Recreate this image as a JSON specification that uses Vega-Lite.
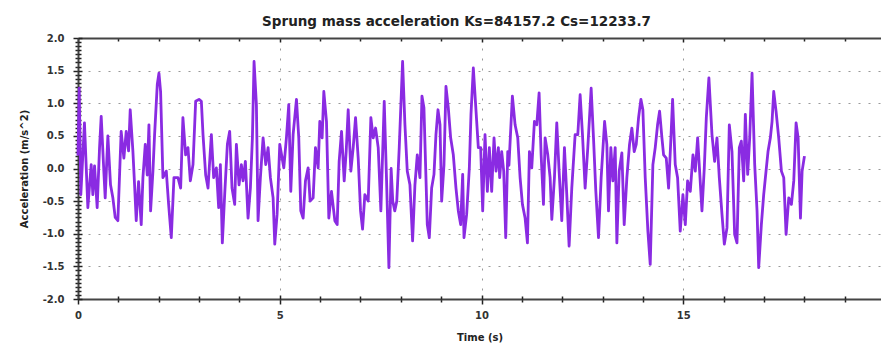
{
"$schema": "https://vega.github.io/schema/vega-lite/v6.json",
"width": 803, "height": 261,
"autosize": {"type": "none"},
"padding": {"left": 78, "top": 38, "right": 0, "bottom": 45},
"background": "white",
"config": {"view": {"stroke": null}},
"title": {"text": "Sprung mass acceleration Ks=84157.2 Cs=12233.7", "font": "DejaVu Sans", "fontSize": 13.5, "fontWeight": "bold", "color": "#222", "anchor": "middle", "frame": "group", "dx": -23, "offset": -6, "baseline": "alphabetic"},
"data": {"values": [
{"t":0,"a":0.2},{"t":0.03,"a":1.23},{"t":0.07,"a":-0.4},{"t":0.16,"a":0.7},{"t":0.244,"a":-0.6},{"t":0.327,"a":0.06},{"t":0.368,"a":-0.4},{"t":0.41,"a":0.04},{"t":0.475,"a":-0.6},{"t":0.534,"a":0.32},{"t":0.575,"a":0.8},{"t":0.64,"a":-0.04},{"t":0.674,"a":-0.45},{"t":0.74,"a":0.5},{"t":0.806,"a":-0.25},{"t":0.864,"a":-0.45},{"t":0.922,"a":-0.75},{"t":0.988,"a":-0.8},{"t":1.07,"a":0.57},{"t":1.137,"a":0.16},{"t":1.195,"a":0.57},{"t":1.253,"a":0.27},{"t":1.294,"a":0.9},{"t":1.36,"a":0.27},{"t":1.402,"a":-0.25},{"t":1.443,"a":-0.8},{"t":1.501,"a":-0.2},{"t":1.567,"a":-0.86},{"t":1.609,"a":-0.14},{"t":1.667,"a":0.37},{"t":1.716,"a":-0.1},{"t":1.758,"a":0.67},{"t":1.799,"a":-0.65},{"t":1.857,"a":-0.04},{"t":1.898,"a":0.52},{"t":1.965,"a":1.29},{"t":2.006,"a":1.46},{"t":2.047,"a":1.18},{"t":2.105,"a":-0.14},{"t":2.188,"a":-0.04},{"t":2.246,"a":-0.55},{"t":2.312,"a":-1.06},{"t":2.378,"a":-0.14},{"t":2.477,"a":-0.14},{"t":2.544,"a":-0.3},{"t":2.6,"a":0.78},{"t":2.667,"a":0.21},{"t":2.725,"a":0.32},{"t":2.784,"a":-0.19},{"t":2.85,"a":0.06},{"t":2.916,"a":1.03},{"t":2.999,"a":1.06},{"t":3.057,"a":1.03},{"t":3.098,"a":0.52},{"t":3.164,"a":-0.1},{"t":3.222,"a":-0.3},{"t":3.305,"a":0.52},{"t":3.362,"a":-0.14},{"t":3.429,"a":0.01},{"t":3.486,"a":-0.6},{"t":3.528,"a":0.06},{"t":3.577,"a":-1.14},{"t":3.635,"a":-0.4},{"t":3.702,"a":0.37},{"t":3.759,"a":0.57},{"t":3.817,"a":-0.3},{"t":3.883,"a":-0.55},{"t":3.925,"a":0.37},{"t":3.991,"a":-0.25},{"t":4.049,"a":0.06},{"t":4.09,"a":-0.19},{"t":4.148,"a":0.11},{"t":4.214,"a":-0.76},{"t":4.272,"a":-0.3},{"t":4.322,"a":0.47},{"t":4.363,"a":1.64},{"t":4.421,"a":0.98},{"t":4.462,"a":-0.8},{"t":4.52,"a":-0.14},{"t":4.587,"a":0.47},{"t":4.653,"a":0.06},{"t":4.711,"a":0.32},{"t":4.768,"a":-0.14},{"t":4.835,"a":-0.45},{"t":4.876,"a":-1.16},{"t":4.934,"a":-0.7},{"t":5.0,"a":0.37},{"t":5.1,"a":0.01},{"t":5.165,"a":0.47},{"t":5.223,"a":0.98},{"t":5.273,"a":-0.35},{"t":5.331,"a":0.52},{"t":5.414,"a":1.06},{"t":5.471,"a":0.47},{"t":5.521,"a":-0.65},{"t":5.579,"a":-0.76},{"t":5.637,"a":-0.19},{"t":5.703,"a":0.01},{"t":5.752,"a":-0.5},{"t":5.827,"a":-0.45},{"t":5.885,"a":0.32},{"t":5.951,"a":0.01},{"t":5.992,"a":0.72},{"t":6.05,"a":0.47},{"t":6.092,"a":1.18},{"t":6.158,"a":0.72},{"t":6.216,"a":-0.76},{"t":6.282,"a":-0.35},{"t":6.365,"a":-0.8},{"t":6.423,"a":-0.86},{"t":6.472,"a":0.11},{"t":6.531,"a":0.57},{"t":6.597,"a":-0.19},{"t":6.646,"a":0.26},{"t":6.696,"a":0.9},{"t":6.762,"a":-0.04},{"t":6.82,"a":0.32},{"t":6.878,"a":0.78},{"t":6.944,"a":0.16},{"t":7.002,"a":-0.65},{"t":7.052,"a":-0.93},{"t":7.109,"a":-0.4},{"t":7.192,"a":-0.5},{"t":7.258,"a":0.78},{"t":7.316,"a":0.47},{"t":7.374,"a":0.62},{"t":7.44,"a":0.32},{"t":7.506,"a":-0.65},{"t":7.589,"a":1.03},{"t":7.647,"a":-0.19},{"t":7.705,"a":-1.52},{"t":7.76,"a":0.0},{"t":7.8,"a":-0.5},{"t":7.85,"a":-0.65},{"t":7.9,"a":-0.5},{"t":7.961,"a":0.32},{"t":8.044,"a":1.64},{"t":8.102,"a":0.67},{"t":8.16,"a":-0.04},{"t":8.226,"a":-0.25},{"t":8.292,"a":-1.11},{"t":8.35,"a":-0.25},{"t":8.408,"a":0.21},{"t":8.474,"a":-0.14},{"t":8.524,"a":1.11},{"t":8.573,"a":0.93},{"t":8.623,"a":-0.14},{"t":8.656,"a":-0.86},{"t":8.706,"a":-1.06},{"t":8.764,"a":-0.3},{"t":8.822,"a":-0.09},{"t":8.871,"a":0.52},{"t":8.921,"a":0.9},{"t":8.971,"a":0.67},{"t":9.012,"a":-0.5},{"t":9.07,"a":0.06},{"t":9.119,"a":1.26},{"t":9.177,"a":0.93},{"t":9.235,"a":0.47},{"t":9.301,"a":0.21},{"t":9.367,"a":-0.3},{"t":9.425,"a":-0.65},{"t":9.483,"a":-0.86},{"t":9.533,"a":-0.09},{"t":9.566,"a":-1.06},{"t":9.632,"a":-0.7},{"t":9.698,"a":0.01},{"t":9.739,"a":0.83},{"t":9.797,"a":1.54},{"t":9.864,"a":0.88},{"t":9.921,"a":0.32},{"t":9.979,"a":0.32},{"t":10.029,"a":-0.65},{"t":10.087,"a":0.52},{"t":10.145,"a":-0.35},{"t":10.194,"a":0.32},{"t":10.252,"a":-0.35},{"t":10.31,"a":0.47},{"t":10.36,"a":-0.04},{"t":10.418,"a":0.32},{"t":10.45,"a":-0.14},{"t":10.5,"a":0.26},{"t":10.55,"a":-0.04},{"t":10.6,"a":-1.06},{"t":10.65,"a":0.26},{"t":10.68,"a":0.05},{"t":10.765,"a":1.11},{"t":10.832,"a":0.67},{"t":10.898,"a":0.47},{"t":10.956,"a":-0.14},{"t":11.014,"a":-0.55},{"t":11.08,"a":-0.76},{"t":11.138,"a":-1.14},{"t":11.187,"a":0.26},{"t":11.245,"a":0.01},{"t":11.311,"a":0.72},{"t":11.369,"a":0.67},{"t":11.427,"a":1.16},{"t":11.477,"a":0.21},{"t":11.535,"a":-0.55},{"t":11.576,"a":0.47},{"t":11.642,"a":0.21},{"t":11.7,"a":-0.14},{"t":11.742,"a":-0.78},{"t":11.807,"a":-0.14},{"t":11.865,"a":0.7},{"t":11.923,"a":-0.04},{"t":11.989,"a":-0.8},{"t":12.055,"a":0.32},{"t":12.113,"a":-0.4},{"t":12.171,"a":-1.19},{"t":12.237,"a":-0.3},{"t":12.32,"a":0.52},{"t":12.386,"a":0.52},{"t":12.444,"a":1.13},{"t":12.502,"a":0.52},{"t":12.568,"a":-0.3},{"t":12.634,"a":0.32},{"t":12.717,"a":1.23},{"t":12.775,"a":0.47},{"t":12.833,"a":-0.35},{"t":12.899,"a":-1.06},{"t":12.965,"a":-0.14},{"t":13.05,"a":0.72},{"t":13.106,"a":0.37},{"t":13.147,"a":-0.65},{"t":13.205,"a":0.32},{"t":13.255,"a":-0.19},{"t":13.313,"a":0.32},{"t":13.354,"a":-1.14},{"t":13.412,"a":-0.04},{"t":13.478,"a":0.24},{"t":13.536,"a":-0.86},{"t":13.602,"a":-0.14},{"t":13.668,"a":0.37},{"t":13.726,"a":0.62},{"t":13.784,"a":0.26},{"t":13.834,"a":0.37},{"t":13.892,"a":0.78},{"t":13.95,"a":1.06},{"t":13.999,"a":0.9},{"t":14.057,"a":-0.14},{"t":14.123,"a":-0.96},{"t":14.181,"a":-1.47},{"t":14.247,"a":0.06},{"t":14.305,"a":0.32},{"t":14.363,"a":0.67},{"t":14.413,"a":0.88},{"t":14.471,"a":0.47},{"t":14.512,"a":0.21},{"t":14.578,"a":0.16},{"t":14.636,"a":-0.3},{"t":14.694,"a":0.47},{"t":14.735,"a":1.06},{"t":14.801,"a":0.06},{"t":14.859,"a":-0.14},{"t":14.925,"a":-0.96},{"t":14.991,"a":-0.4},{"t":15.05,"a":-0.86},{"t":15.107,"a":-0.19},{"t":15.174,"a":-0.35},{"t":15.24,"a":0.21},{"t":15.298,"a":-0.04},{"t":15.356,"a":0.47},{"t":15.405,"a":-0.04},{"t":15.463,"a":-0.65},{"t":15.521,"a":0.01},{"t":15.571,"a":0.78},{"t":15.635,"a":1.39},{"t":15.711,"a":0.52},{"t":15.777,"a":0.11},{"t":15.835,"a":0.47},{"t":15.893,"a":-0.14},{"t":15.959,"a":-0.7},{"t":16.017,"a":-1.16},{"t":16.083,"a":-0.91},{"t":16.141,"a":0.67},{"t":16.207,"a":0.26},{"t":16.273,"a":-1.01},{"t":16.331,"a":-1.14},{"t":16.389,"a":0.32},{"t":16.439,"a":0.42},{"t":16.497,"a":-0.19},{"t":16.538,"a":0.83},{"t":16.596,"a":-0.09},{"t":16.646,"a":0.47},{"t":16.704,"a":1.46},{"t":16.77,"a":0.06},{"t":16.828,"a":-0.65},{"t":16.869,"a":-1.52},{"t":16.935,"a":-0.86},{"t":16.993,"a":-0.4},{"t":17.051,"a":-0.04},{"t":17.1,"a":0.26},{"t":17.158,"a":0.47},{"t":17.2,"a":0.72},{"t":17.241,"a":1.18},{"t":17.299,"a":0.88},{"t":17.365,"a":0.47},{"t":17.432,"a":-0.04},{"t":17.49,"a":-0.14},{"t":17.548,"a":-1.01},{"t":17.614,"a":-0.45},{"t":17.68,"a":-0.55},{"t":17.738,"a":-0.19},{"t":17.796,"a":0.7},{"t":17.846,"a":0.47},{"t":17.904,"a":-0.76},{"t":17.945,"a":-0.04},{"t":18.003,"a":0.19}
]},
"layer": [
{
"mark": {"type": "line", "color": "#8a2be2", "strokeWidth": 2.8, "strokeJoin": "round"},
"encoding": {
"x": {"field": "t", "type": "quantitative", "scale": {"domain": [0, 19.9], "nice": false, "zero": false},
 "axis": {"orient": "bottom", "title": "Time (s)", "values": [0,1,2,3,4,5,6,7,8,9,10,11,12,13,14,15,16,17,18,19,20],
  "labelExpr": "datum.value % 5 === 0 ? datum.label : ''",
  "labelFont": "DejaVu Sans", "labelFontSize": 10, "labelFontWeight": "bold", "labelColor": "#333", "labelPadding": 6, "labelFlush": false,
  "titleFont": "DejaVu Sans", "titleFontSize": 10, "titleFontWeight": "bold", "titleColor": "#222", "titlePadding": 12,
  "domain": true, "domainColor": "#444", "domainWidth": 2,
  "ticks": true, "tickColor": "#222", "tickWidth": 1.5,
  "tickSize": {"condition": {"test": "datum.value % 5 === 0", "value": 5}, "value": 3},
  "grid": true, "gridColor": "#999", "gridDash": [2, 8], "gridWidth": 1,
  "gridOpacity": {"condition": {"test": "datum.value % 5 === 0", "value": 1}, "value": 0}}},
"y": {"field": "a", "type": "quantitative", "scale": {"domain": [-2, 2], "nice": false},
 "axis": {"orient": "left", "title": "Acceleration (m/s^2)",
  "values": [-2,-1.9375,-1.875,-1.8125,-1.75,-1.6875,-1.625,-1.5625,-1.5,-1.4375,-1.375,-1.3125,-1.25,-1.1875,-1.125,-1.0625,-1,-0.9375,-0.875,-0.8125,-0.75,-0.6875,-0.625,-0.5625,-0.5,-0.4375,-0.375,-0.3125,-0.25,-0.1875,-0.125,-0.0625,0,0.0625,0.125,0.1875,0.25,0.3125,0.375,0.4375,0.5,0.5625,0.625,0.6875,0.75,0.8125,0.875,0.9375,1,1.0625,1.125,1.1875,1.25,1.3125,1.375,1.4375,1.5,1.5625,1.625,1.6875,1.75,1.8125,1.875,1.9375,2],
  "labelExpr": "abs(datum.value*2 - round(datum.value*2)) < 0.001 ? replace(format(datum.value, '.1f'), '\u2212', '-') : ''",
  "labelFont": "DejaVu Sans", "labelFontSize": 10, "labelFontWeight": "bold", "labelColor": "#333", "labelPadding": 9, "labelFlush": false,
  "titleFont": "DejaVu Sans", "titleFontSize": 10, "titleFontWeight": "bold", "titleColor": "#222", "titlePadding": 13,
  "domain": true, "domainColor": "#444", "domainWidth": 2,
  "ticks": true, "tickColor": "#222", "tickWidth": 1.5,
  "tickSize": {"condition": {"test": "abs(datum.value*2 - round(datum.value*2)) < 0.001", "value": 5}, "value": 3},
  "grid": true, "gridColor": "#999", "gridDash": [2, 8], "gridWidth": 1,
  "gridOpacity": {"condition": {"test": "abs(datum.value*2 - round(datum.value*2)) < 0.001", "value": 1}, "value": 0}}}
}
},
{
"mark": {"type": "point", "opacity": 0},
"encoding": {
"x": {"field": "t", "type": "quantitative",
 "axis": {"orient": "top", "title": null, "labels": false, "grid": false, "values": [0,1,2,3,4,5,6,7,8,9,10,11,12,13,14,15,16,17,18,19,20],
  "domain": true, "domainColor": "#444", "domainWidth": 2, "tickColor": "#222", "tickWidth": 1.5,
  "tickSize": {"condition": {"test": "datum.value % 5 === 0", "value": -4}, "value": -3}}},
"y": {"field": "a", "type": "quantitative",
 "axis": {"orient": "left", "title": null, "labels": false, "grid": false, "domain": false,
  "values": [-2,-1.9375,-1.875,-1.8125,-1.75,-1.6875,-1.625,-1.5625,-1.5,-1.4375,-1.375,-1.3125,-1.25,-1.1875,-1.125,-1.0625,-1,-0.9375,-0.875,-0.8125,-0.75,-0.6875,-0.625,-0.5625,-0.5,-0.4375,-0.375,-0.3125,-0.25,-0.1875,-0.125,-0.0625,0,0.0625,0.125,0.1875,0.25,0.3125,0.375,0.4375,0.5,0.5625,0.625,0.6875,0.75,0.8125,0.875,0.9375,1,1.0625,1.125,1.1875,1.25,1.3125,1.375,1.4375,1.5,1.5625,1.625,1.6875,1.75,1.8125,1.875,1.9375,2],
  "tickColor": "#222", "tickWidth": 1.5,
  "tickSize": {"condition": {"test": "abs(datum.value*2 - round(datum.value*2)) < 0.001", "value": -4}, "value": -3}}}
}
},
{
"mark": {"type": "point", "opacity": 0},
"encoding": {
"x": {"field": "t", "type": "quantitative",
 "axis": {"orient": "bottom", "title": null, "labels": false, "grid": false, "domain": false, "values": [0,1,2,3,4,5,6,7,8,9,10,11,12,13,14,15,16,17,18,19,20],
  "tickColor": "#222", "tickWidth": 1.5,
  "tickSize": {"condition": {"test": "datum.value % 5 === 0", "value": -4}, "value": -3}}},
"y": {"field": "a", "type": "quantitative", "axis": null}
}
}
],
"resolve": {"axis": {"x": "independent", "y": "independent"}}
}
